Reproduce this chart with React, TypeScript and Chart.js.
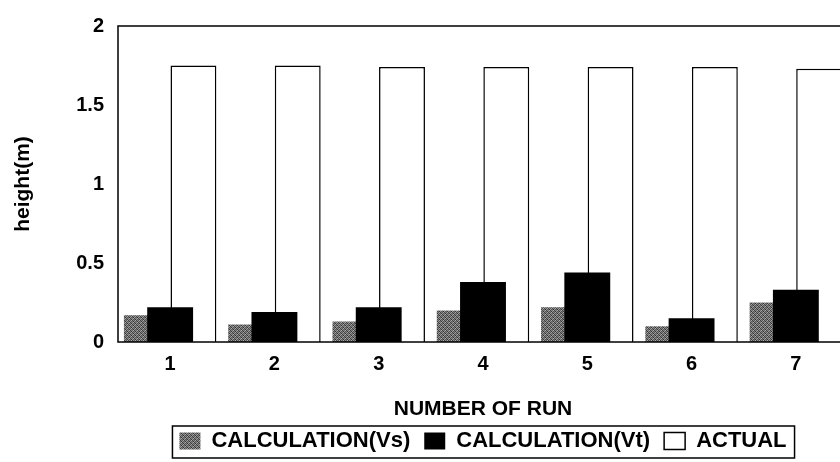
import React, { useEffect, useRef } from 'react';
import { Chart, registerables } from 'chart.js';

Chart.register(...registerables);

const categories = ['1', '2', '3', '4', '5', '6', '7'];
const vsValues = [0.17, 0.11, 0.13, 0.2, 0.22, 0.1, 0.25];
const vtValues = [0.22, 0.19, 0.22, 0.38, 0.44, 0.15, 0.33];
const actualValues = [1.75, 1.75, 1.74, 1.74, 1.74, 1.74, 1.73];
const seriesNames = ['CALCULATION(Vs)', 'CALCULATION(Vt)', 'ACTUAL'];
const yTicks = [0, 0.5, 1, 1.5, 2];
const xTitle = 'NUMBER OF RUN';
const yTitle = 'height(m)';

const FONT = '"Liberation Sans", Arial, sans-serif';

function makeStipple(): CanvasPattern | string {
  const c = document.createElement('canvas');
  c.width = 4;
  c.height = 4;
  const g = c.getContext('2d');
  if (!g) return '#666';
  const shades = [
    '#444', '#888', '#555', '#aaa',
    '#777', '#333', '#999', '#555',
    '#666', '#aaa', '#444', '#888',
    '#999', '#555', '#777', '#333',
  ];
  shades.forEach((s, i) => {
    g.fillStyle = s;
    g.fillRect(i % 4, Math.floor(i / 4), 1, 1);
  });
  return g.createPattern(c, 'repeat') || '#666';
}

const drawOrderPlugin = {
  id: 'drawOrder',
  beforeDatasetsDraw(chart: any) {
    const { ctx, chartArea } = chart;
    [2, 0, 1].forEach((i) => {
      if (!chart.isDatasetVisible(i)) return;
      const meta = chart.getDatasetMeta(i);
      ctx.save();
      ctx.beginPath();
      ctx.rect(chartArea.left, chartArea.top, chartArea.width, chartArea.height);
      ctx.clip();
      meta.controller.draw();
      ctx.restore();
    });
    return false;
  },
};

const framePlugin = {
  id: 'frame',
  afterDraw(chart: any) {
    const { ctx, chartArea } = chart;
    ctx.save();
    ctx.strokeStyle = '#000';
    ctx.lineWidth = 1.5;
    ctx.strokeRect(chartArea.left, chartArea.top, chartArea.width, chartArea.height);
    const lg = chart.legend;
    if (lg && lg.legendHitBoxes && lg.legendHitBoxes.length) {
      const hb = lg.legendHitBoxes;
      const first = hb[0];
      const last = hb[hb.length - 1];
      const left = first.left - 7;
      const right = last.left + last.width + 8;
      const top = first.top - 4;
      const bottom = first.top + first.height + 6;
      ctx.lineWidth = 1.5;
      ctx.strokeRect(left, top, right - left, bottom - top);
    }
    ctx.restore();
  },
};

export default function App() {
  const ref = useRef<HTMLCanvasElement | null>(null);

  useEffect(() => {
    if (!ref.current) return;
    const stipple = makeStipple();
    const common = { categoryPercentage: 0.67, barPercentage: 1.97 };
    const chart = new Chart(ref.current, {
      type: 'bar',
      data: {
        labels: categories,
        datasets: [
          { label: seriesNames[0], data: vsValues, backgroundColor: stipple as any, borderWidth: 0, ...common },
          { label: seriesNames[1], data: vtValues, backgroundColor: '#000', borderWidth: 0, ...common },
          { label: seriesNames[2], data: actualValues, backgroundColor: '#fff', borderColor: '#000', borderWidth: 1.5, ...common },
        ],
      },
      options: {
        animation: false,
        responsive: true,
        maintainAspectRatio: false,
        layout: { padding: { top: 22, left: 0, right: 4, bottom: 0 } },
        plugins: {
          legend: {
            position: 'bottom',
            fullSize: false,
            labels: {
              font: { family: FONT, size: 22, weight: 'bold' },
              color: '#000',
              boxWidth: 21,
              boxHeight: 17,
              padding: 14,
            },
          },
          tooltip: { enabled: false },
        },
        scales: {
          x: {
            grid: { display: false, drawTicks: false },
            border: { display: false },
            ticks: { font: { family: FONT, size: 20, weight: 'bold' }, color: '#000', padding: 10 },
            title: {
              display: true,
              text: xTitle,
              font: { family: FONT, size: 21, weight: 'bold' },
              color: '#000',
              padding: { top: 0, bottom: -5.5 },
            },
            afterFit: (s: any) => {
              s.height = 74;
            },
          },
          y: {
            min: 0,
            max: 2,
            afterBuildTicks: (s: any) => {
              s.ticks = yTicks.map((v) => ({ value: v }));
            },
            grid: { display: false, drawTicks: false },
            border: { display: false },
            ticks: {
              font: { family: FONT, size: 20, weight: 'bold' },
              color: '#000',
              padding: 14,
              callback: (v: any) => String(v),
            },
            title: {
              display: true,
              text: yTitle,
              font: { family: FONT, size: 21, weight: 'bold' },
              color: '#000',
              padding: { top: 10.4, bottom: 0 },
            },
            afterFit: (s: any) => {
              s.width = 118;
            },
          },
        },
      },
      plugins: [drawOrderPlugin, framePlugin],
    } as any);
    return () => chart.destroy();
  }, []);

  return (
    <div style={{ position: 'fixed', left: 0, top: 0, width: 840, height: 462, overflow: 'hidden', background: '#fff' }}>
      <div style={{ position: 'relative', width: 852, height: 462 }}>
        <canvas ref={ref} />
      </div>
    </div>
  );
}
